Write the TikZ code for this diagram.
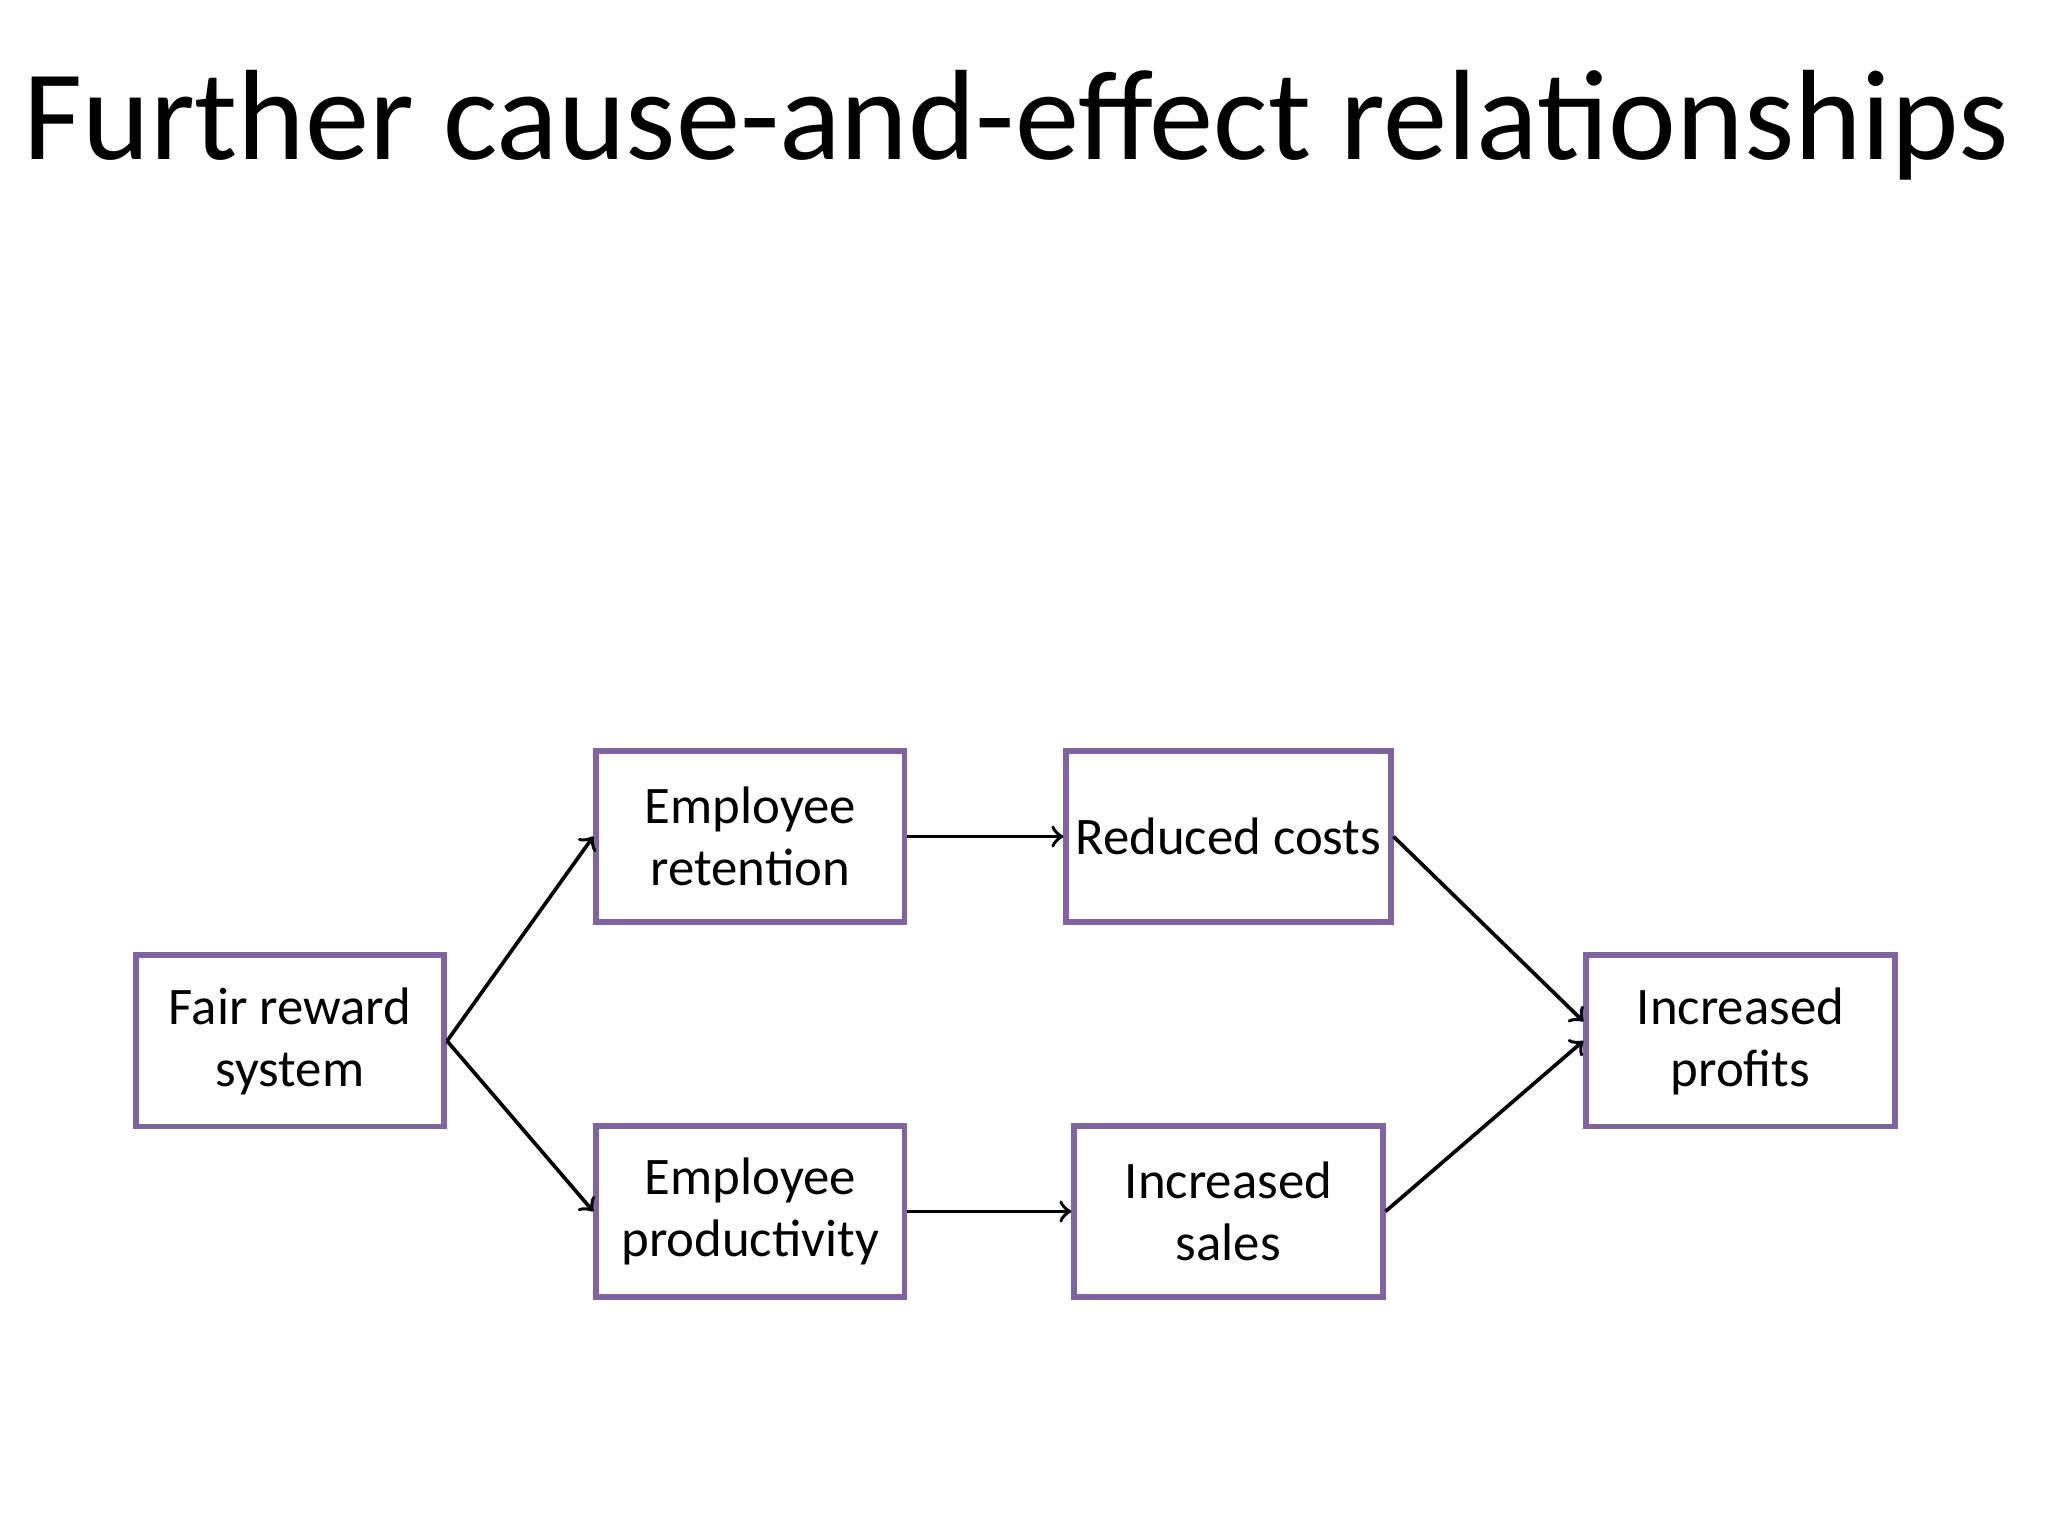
\documentclass[tikz,border=0pt]{standalone}
\usepackage{fontspec}
\setmainfont{Carlito}
\usetikzlibrary{positioning}
\definecolor{boxpurple}{RGB}{128,100,162}
\begin{document}
\begin{tikzpicture}[
    box/.style={draw=boxpurple, line width=1.3pt, minimum width=2.36cm, minimum height=1.31cm,
        align=center, font=\fontsize{11.5}{13.5}\selectfont, inner sep=2pt},
    link/.style={->, line width=0.8pt}
]
    \useasboundingbox (0,0) rectangle (15.68,11.76);
%
    \node (title) at (7.78,10.8) {\fontsize{28}{32}\selectfont Further cause-and-effect relationships};
%
    \node[box] (fair) at (2.22,3.79) {Fair reward\\system};
    \node[box] (retention) at (5.745,5.355) {Employee\\retention};
    \node[box] (reduced) at (9.405,5.355) {Reduced costs};
    \node[box] (productivity) at (5.745,2.485) {Employee\\productivity};
    \node[box] (sales) at (9.405,2.485) {Increased\\sales};
    \node[box] (profits) at (13.325,3.79) {Increased\\profits};
%
    \draw[link] (fair.east) -- (retention.west);
    \draw[link] (fair.east) -- (productivity.west);
    \draw[link] (retention.east) -- (reduced.west);
    \draw[link] (productivity.east) -- (sales.west);
    \draw[link] (reduced.east) -- ([yshift=0.15cm]profits.west);
    \draw[link] (sales.east) -- (profits.west);
\end{tikzpicture}
\end{document}
